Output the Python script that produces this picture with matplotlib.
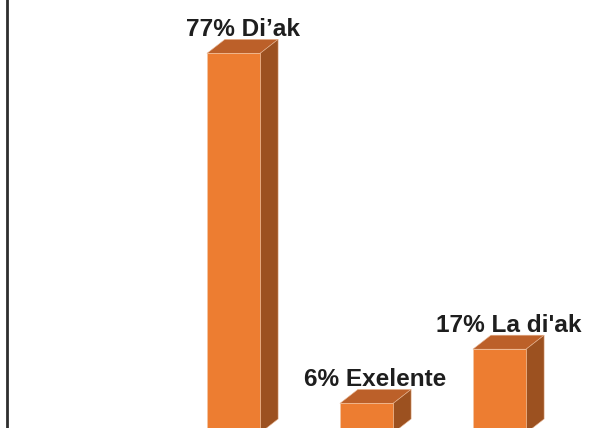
import matplotlib
matplotlib.use("Agg")
import matplotlib.pyplot as plt
from matplotlib.patches import Polygon

categories = ["Di’ak", "Exelente", "La di'ak"]
values = [77, 6, 17]
labels = ["77% Di’ak", "6% Exelente", "17% La di'ak"]

front = "#ED7D31"
top_c = "#BC6029"
side_c = "#9C5120"

W, H, DPI = 590, 428, 100
fig = plt.figure(figsize=(W / DPI, H / DPI), dpi=DPI)
left_px = 7.0
ax = fig.add_axes([left_px / W, 0, 1 - left_px / W, 1])

k = 4.93          # px per percent
step = 133.0      # px per category
x0_px = 233.5     # first bar centre
base_px = 433.0   # baseline (px from top)

ax.set_xlim((left_px - x0_px) / step, (W - x0_px) / step)
ax.set_ylim((base_px - H) / k, base_px / k)

width = 0.4
dx = 18 / step
dy = 14 / k

xs = list(range(len(values)))
ax.bar(xs, values, width=width, color=front, edgecolor="#F2C9A8", linewidth=0.4, zorder=3)
for x, v in zip(xs, values):
    l, r = x - width / 2, x + width / 2
    ax.add_patch(Polygon([(l, v), (r, v), (r + dx, v + dy), (l + dx, v + dy)],
                         closed=True, facecolor=top_c, edgecolor="#E8B592", linewidth=0.4, zorder=2))
    ax.add_patch(Polygon([(r, 0), (r, v), (r + dx, v + dy), (r + dx, dy)],
                         closed=True, facecolor=side_c, edgecolor="#E8B592", linewidth=0.4, zorder=2))

for x, v, t in zip(xs, values, labels):
    ax.text(x + dx / 2, v + dy + 3 / k, t, ha="center", va="baseline",
            fontsize=17.6, fontweight="bold", family=["Liberation Sans", "DejaVu Sans"],
            color="#1E1E1E", zorder=5)

for s in ["top", "right", "bottom"]:
    ax.spines[s].set_visible(False)
ax.spines["left"].set_linewidth(2.0)
ax.spines["left"].set_color("#2E2E2E")
ax.set_xticks([])
ax.set_yticks([])

fig.savefig("out.png", dpi=DPI)
